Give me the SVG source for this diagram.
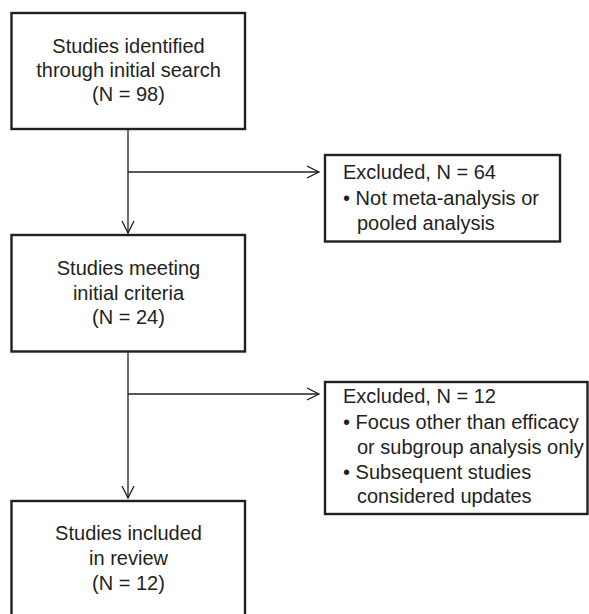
<svg xmlns="http://www.w3.org/2000/svg" width="589" height="614" viewBox="0 0 589 614">
<defs>
<style>
.box{fill:#fff;stroke:#231f20;stroke-width:2.4}
.ln{fill:none;stroke:#231f20;stroke-width:1.3}
.ah{fill:none;stroke:#231f20;stroke-width:1.3}
text{font-family:"Liberation Sans",Arial,sans-serif;font-size:20px;fill:#231f20}
.c{text-anchor:middle}
</style>
<marker id="arr" viewBox="0 0 14 14" refX="12" refY="7" markerWidth="14" markerHeight="14" markerUnits="userSpaceOnUse" orient="auto">
<path d="M0,1 L12,7 L0,13" class="ah"/>
</marker>
</defs>
<rect width="589" height="614" fill="#fff"/>
<g id="connectors">
<line class="ln" x1="128" y1="129" x2="128" y2="233" marker-end="url(#arr)"/>
<line class="ln" x1="128" y1="172" x2="319" y2="172" marker-end="url(#arr)"/>
<line class="ln" x1="128" y1="352" x2="128" y2="498" marker-end="url(#arr)"/>
<line class="ln" x1="128" y1="394" x2="319" y2="394" marker-end="url(#arr)"/>
</g>
<g id="n1">
<rect class="box" x="11.5" y="13" width="233.5" height="116"/>
<text class="c" x="128.5" y="53">Studies identified</text>
<text class="c" x="128.5" y="77">through initial search</text>
<text class="c" x="128.5" y="101">(N = 98)</text>
</g>
<g id="x1">
<rect class="box" x="325" y="155" width="235" height="86.5"/>
<text x="343" y="179">Excluded, N = 64</text>
<text x="343" y="205">• Not meta-analysis or</text>
<text x="357" y="230">pooled analysis</text>
</g>
<g id="n2">
<rect class="box" x="11.5" y="235" width="233.5" height="116.5"/>
<text class="c" x="128.5" y="275">Studies meeting</text>
<text class="c" x="128.5" y="300">initial criteria</text>
<text class="c" x="128.5" y="324">(N = 24)</text>
</g>
<g id="x2">
<rect class="box" x="325" y="382" width="262.5" height="132"/>
<text x="343" y="403">Excluded, N = 12</text>
<text x="343" y="429">• Focus other than efficacy</text>
<text x="357" y="454">or subgroup analysis only</text>
<text x="343" y="479">• Subsequent studies</text>
<text x="357" y="503">considered updates</text>
</g>
<g id="n3">
<rect class="box" x="11.5" y="501" width="233.5" height="120"/>
<text class="c" x="128.5" y="540">Studies included</text>
<text class="c" x="128.5" y="565">in review</text>
<text class="c" x="128.5" y="590">(N = 12)</text>
</g>
</svg>
